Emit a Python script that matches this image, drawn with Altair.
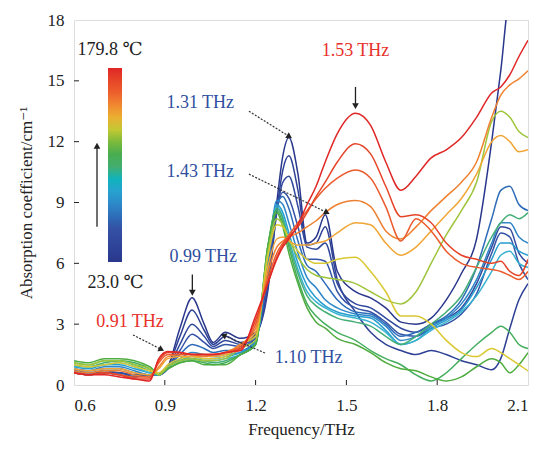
import math
import altair as alt
import pandas as pd

freq = [0.60, 0.65, 0.70, 0.75, 0.80, 0.85, 0.88, 0.91, 0.95, 0.99, 1.03, 1.06, 1.10, 1.15,
        1.20, 1.24, 1.27, 1.29, 1.31, 1.34, 1.37, 1.40, 1.43, 1.47, 1.53, 1.58, 1.63, 1.68,
        1.73, 1.78, 1.83, 1.88, 1.93, 1.98, 2.01, 2.04, 2.07, 2.10]

temps = [23.0, 32.2, 41.4, 50.6, 59.8, 69.0, 78.2, 87.4, 96.6, 105.8, 115.0, 124.2,
         133.4, 142.6, 151.8, 161.0, 170.2, 179.8]

c01 = [0.6,0.5,0.6,0.5,0.4,0.5,0.5, 0.9,2.8,4.3,3.0,2.1,2.6,2.3, 2.6,4.8,9.0,11.3,12.2, 10.4,7.0,7.3,8.4,5.6, 4.6,4.3,3.8,3.1,3.0,3.3, 4.2,5.5,7.2,12.0,15.5,19,19,19]
c02 = [0.6,0.5,0.6,0.6,0.4,0.5,0.5, 0.9,2.4,3.7,2.7,2.0,2.4,2.1, 2.5,4.6,8.6,10.6,11.3, 9.6,6.9,7.0,7.8,5.2, 3.6,2.6,2.0,1.7,1.5,1.7, 1.5,1.2,1.0,0.75,1.3,2.8,4.2,5.0]
c03 = [0.7,0.6,0.6,0.6,0.5,0.5,0.5, 0.8,2.0,3.0,2.4,1.9,2.2,2.0, 2.4,4.9,8.5,10.0,10.3, 8.8,6.8,6.7,7.0,5.0, 4.0,3.8,3.3,2.8,2.6,3.0, 3.3,3.8,5.0,6.8,7.8,7.7,6.5,6.0]
c04 = [0.7,0.6,0.7,0.6,0.5,0.5,0.5, 0.8,1.7,2.5,2.1,1.8,2.0,1.9, 2.3,5.3,8.6,9.5,9.2, 7.8,6.2,6.2,6.1,4.6, 3.8,3.6,3.1,2.5,2.4,2.8, 3.0,3.5,4.5,6.5,7.5,7.3,6.0,5.2]
c05 = [0.8,0.7,0.8,0.8,0.6,0.5,0.5, 0.8,1.5,2.0,1.8,1.6,1.7,1.7, 2.2,5.8,8.9,9.3,8.7, 7.1,5.9,5.6,5.0,4.2, 3.6,3.5,3.0,2.4,2.6,3.0, 3.4,4.2,5.8,8.2,9.6,9.8,8.9,8.6]
c06 = [0.8,0.7,0.9,0.9,0.7,0.5,0.5, 0.9,1.3,1.6,1.5,1.4,1.5,1.6, 2.1,6.1,9.1,8.9,8.0, 6.5,5.3,4.8,4.2,3.8, 3.5,3.4,2.9,2.2,2.4,2.9, 3.3,4.0,5.2,7.0,8.0,8.0,7.3,7.0]
c07 = [0.9,0.8,1.0,1.0,0.8,0.6,0.5, 0.9,1.2,1.4,1.3,1.3,1.4,1.6, 2.1,6.3,8.9,8.5,7.5, 6.0,4.9,4.3,3.9,3.6, 3.4,3.3,2.7,2.0,2.2,2.8, 3.2,3.7,4.8,6.2,7.0,7.0,6.6,6.4]
c08 = [0.9,0.9,1.0,1.1,0.9,0.6,0.5, 0.9,1.2,1.3,1.2,1.2,1.3,1.5, 2.0,6.5,8.8,8.3,7.2, 5.7,4.6,4.1,3.8,3.5, 3.3,3.1,2.6,2.0,2.2,2.7, 3.1,3.6,4.4,5.6,6.4,6.6,6.0,5.8]
c09 = [1.0,0.9,1.1,1.2,1.0,0.7,0.5, 0.9,1.2,1.3,1.2,1.1,1.2,1.5, 2.0,6.8,8.7,8.2,7.0, 5.5,4.4,3.9,3.6,3.3, 3.1,2.9,2.4,2.0,2.4,3.0, 3.6,4.4,5.8,7.3,8.0,8.4,8.2,8.5]
c10 = [1.1,1.0,1.2,1.2,1.1,0.8,0.5, 0.8,1.1,1.2,1.1,1.0,1.1,1.5, 2.0,6.8,8.6,8.0,6.8, 5.2,4.0,3.4,3.0,2.6, 2.2,1.7,1.3,1.0,0.5,0.2, 0.6,1.3,2.0,2.6,2.9,2.6,2.0,1.8]
c11 = [1.2,1.1,1.3,1.3,1.2,0.9,0.6, 0.8,1.1,1.2,1.0,1.0,1.0,1.5, 2.0,6.8,8.5,7.8,6.5, 5.0,3.8,3.1,2.8,2.3, 2.0,1.6,1.1,0.8,0.7,0.4, 0.2,0.4,0.9,1.3,1.1,0.6,1.0,1.6]
c12 = [1.1,1.0,1.2,1.2,1.0,0.8,0.5, 0.9,1.2,1.3,1.2,1.2,1.3,1.8, 2.2,6.5,8.2,7.9,7.2, 6.3,5.7,5.4,5.3,5.2, 5.0,4.6,4.2,4.0,4.6,6.0, 7.4,8.6,10.0,13.0,13.5,13.2,12.5,12.2]
c13 = [1.0,0.9,1.0,1.1,0.9,0.7,0.6, 1.0,1.3,1.4,1.3,1.3,1.4,2.0, 2.4,6.3,7.9,7.8,7.2, 6.6,6.2,6.0,6.0,6.2, 6.3,5.6,4.6,3.4,3.4,3.0, 2.2,1.6,1.4,1.8,1.6,1.3,1.0,0.7]
c14 = [0.8,0.7,0.8,0.8,0.6,0.5,0.8, 1.3,1.4,1.4,1.4,1.4,1.5,2.0, 2.6,5.8,7.2,7.3,7.1, 6.9,6.9,7.0,7.1,7.5, 8.0,7.9,7.0,6.4,6.8,7.6, 8.4,9.2,10.4,12.0,12.3,12.0,11.5,11.6]
c15 = [0.7,0.6,0.7,0.7,0.5,0.4,0.9, 1.4,1.5,1.5,1.4,1.5,1.6,2.0, 2.8,5.5,6.8,7.1,7.3, 7.5,7.8,8.1,8.5,8.9, 9.1,8.8,7.6,7.2,7.8,8.6, 9.3,10.0,11.0,13.2,14.3,14.8,15.1,15.5]
c16 = [0.6,0.5,0.6,0.5,0.4,0.4,1.1, 1.5,1.5,1.5,1.5,1.5,1.6,1.9, 3.0,5.2,6.5,7.0,7.4, 8.0,8.6,9.2,9.7,10.2, 10.6,10.2,8.8,7.1,8.2,7.6, 6.6,6.0,5.8,5.7,5.6,5.4,5.2,5.6]
c17 = [0.6,0.5,0.6,0.5,0.3,0.3,1.2, 1.6,1.6,1.5,1.5,1.5,1.6,1.8, 3.2,5.0,6.3,6.9,7.3, 7.8,8.5,9.3,10.0,11.0, 11.9,11.4,9.8,8.3,8.4,8.0, 7.0,6.4,6.2,6.0,6.1,5.6,5.4,6.2]
c18 = [0.6,0.5,0.5,0.4,0.3,0.2,1.3, 1.65,1.6,1.5,1.5,1.5,1.6,1.7, 3.4,5.0,6.2,6.8,7.2, 7.9,8.9,9.8,11.0,12.4, 13.4,12.8,11.0,9.6,10.3,11.2, 11.6,12.2,13.2,14.4,14.7,15.3,16.2,17.0]

curves = [c01, c02, c03, c04, c05, c06, c07, c08, c09, c10, c11, c12, c13, c14, c15, c16, c17, c18]

# annotation texts
ann_text = ["1.53 THz", "1.31 THz", "1.43 THz", "0.99 THz", "0.91 THz", "1.10 THz", "179.8 ℃", "23.0 ℃"]
ann_x = [1.53, 1.017, 1.017, 1.027, 0.785, 1.375, 0.719, 0.737]
ann_y = [16.45, 13.9, 10.5, 6.3, 3.1, 1.35, 16.5, 5.05]
ann_col = ["#e8302a", "#2f4f9f", "#2f4f9f", "#2f4f9f", "#e8302a", "#2f4f9f", "#222222", "#222222"]

# arrows: start -> end
arr_x1 = [1.53, 0.991, 0.676, 1.178, 1.178, 0.795, 1.231]
arr_y1 = [14.7, 5.45, 7.8, 13.5, 10.4, 2.47, 1.58]
arr_x2 = [1.53, 0.991, 0.676, 1.312, 1.436, 0.889, 1.094]
arr_y2 = [13.75, 4.55, 11.8, 12.25, 8.5, 1.75, 2.45]
arr_dash = [0, 0, 0, 1, 1, 1, 1]

W, H = 454, 365
XD = [0.6, 2.1]
YD = [0, 18]

rows = []
for t, c in zip(temps, curves):
    for f, v in zip(freq, c):
        rows.append({"f": f, "a": v, "T": t})
df = pd.DataFrame(rows)

FONT = "'Liberation Serif', 'Times New Roman', 'DejaVu Serif', serif"
xs = alt.Scale(domain=XD, nice=False, zero=False)
ys = alt.Scale(domain=YD, nice=False)

col_dom = [23.0, 50.6, 69.0, 87.4, 96.6, 115.0, 124.2, 133.4, 142.6, 151.8, 161.0, 179.8]
col_rng = ["#29378c", "#3452a6", "#2f86c8", "#38b2d0", "#45ae78", "#4fac3e", "#9ec53c",
           "#d9c832", "#f0a535", "#ef8030", "#eb5a2c", "#e02626"]

lines = alt.Chart(df).mark_line(strokeWidth=1.5, clip=True, interpolate="monotone").encode(
    x=alt.X("f:Q", scale=xs, title="Frequency/THz",
            axis=alt.Axis(values=[0.6, 0.9, 1.2, 1.5, 1.8, 2.1], format=".1f", grid=False,
                          ticks=False, domain=False, labelFontSize=17, titleFontSize=17,
                          labelFont=FONT, titleFont=FONT, labelColor="#222", titleColor="#222",
                          titleFontWeight="normal", labelPadding=12, titlePadding=8)),
    y=alt.Y("a:Q", scale=ys, title="Absorption coefficient/cm⁻¹",
            axis=alt.Axis(values=[0, 3, 6, 9, 12, 15, 18], format="d", grid=False,
                          ticks=False, domain=False, labelFontSize=17, titleFontSize=17,
                          labelFont=FONT, titleFont=FONT, labelColor="#222", titleColor="#222",
                          titleFontWeight="normal", labelPadding=10, titlePadding=12)),
    color=alt.Color("T:Q", scale=alt.Scale(domain=col_dom, range=col_rng),
                    legend=alt.Legend(orient="none", legendX=34, legendY=48, direction="vertical",
                                      gradientLength=194, gradientThickness=14, labelOpacity=0,
                                      labelFontSize=1, title=None, gradientStrokeColor="#dddddd")),
    detail="T:N",
    order=alt.Order("f:Q"),
)

ytick_df = pd.DataFrame({"v": [3, 6, 9, 12, 15]})
yticks = alt.Chart(ytick_df).mark_rule(color="#222", strokeWidth=1).encode(
    y=alt.Y("v:Q", scale=ys), x=alt.value(0), x2=alt.value(5))
xtick_df = pd.DataFrame({"v": [0.9, 1.2, 1.5, 1.8]})
xticks = alt.Chart(xtick_df).mark_rule(color="#222", strokeWidth=1).encode(
    x=alt.X("v:Q", scale=xs), y=alt.value(H), y2=alt.value(H - 5))

arr = pd.DataFrame({"x1": arr_x1, "y1": arr_y1, "x2": arr_x2, "y2": arr_y2, "d": arr_dash})
ang = []
for a, b, c, d in zip(arr_x1, arr_y1, arr_x2, arr_y2):
    dx = (c - a) * W / (XD[1] - XD[0])
    dy = -(d - b) * H / (YD[1] - YD[0])
    ang.append((math.degrees(math.atan2(dx, -dy)) + 360) % 360)
arr["ang"] = ang

solid = alt.Chart(arr[arr.d == 0]).mark_rule(color="#222", strokeWidth=1.3).encode(
    x=alt.X("x1:Q", scale=xs), y=alt.Y("y1:Q", scale=ys), x2="x2:Q", y2="y2:Q")
dashed = alt.Chart(arr[arr.d == 1]).mark_rule(color="#333", strokeWidth=1.2, strokeDash=[2, 1.5]).encode(
    x=alt.X("x1:Q", scale=xs), y=alt.Y("y1:Q", scale=ys), x2="x2:Q", y2="y2:Q")
heads = alt.Chart(arr).mark_point(shape="triangle-up", filled=True, color="#222", size=45, opacity=1).encode(
    x=alt.X("x2:Q", scale=xs), y=alt.Y("y2:Q", scale=ys), angle=alt.Angle("ang:Q", scale=None))

ann = pd.DataFrame({"x": ann_x, "y": ann_y, "t": ann_text, "c": ann_col})
texts = alt.Chart(ann).mark_text(font=FONT, fontSize=18, baseline="middle", align="center").encode(
    x=alt.X("x:Q", scale=xs), y=alt.Y("y:Q", scale=ys), text="t:N",
    color=alt.Color("c:N", scale=None))

chart = alt.layer(lines, yticks, xticks, solid, dashed, heads, texts).resolve_scale(
    color="independent").properties(
    width=W, height=H, autosize="none",
    padding={"left": 74, "top": 20, "right": 13, "bottom": 65},
).configure_view(stroke="#333", strokeWidth=1.2).configure(background="white")

chart.save("out.html", embed_options={"renderer": "svg", "actions": False})
